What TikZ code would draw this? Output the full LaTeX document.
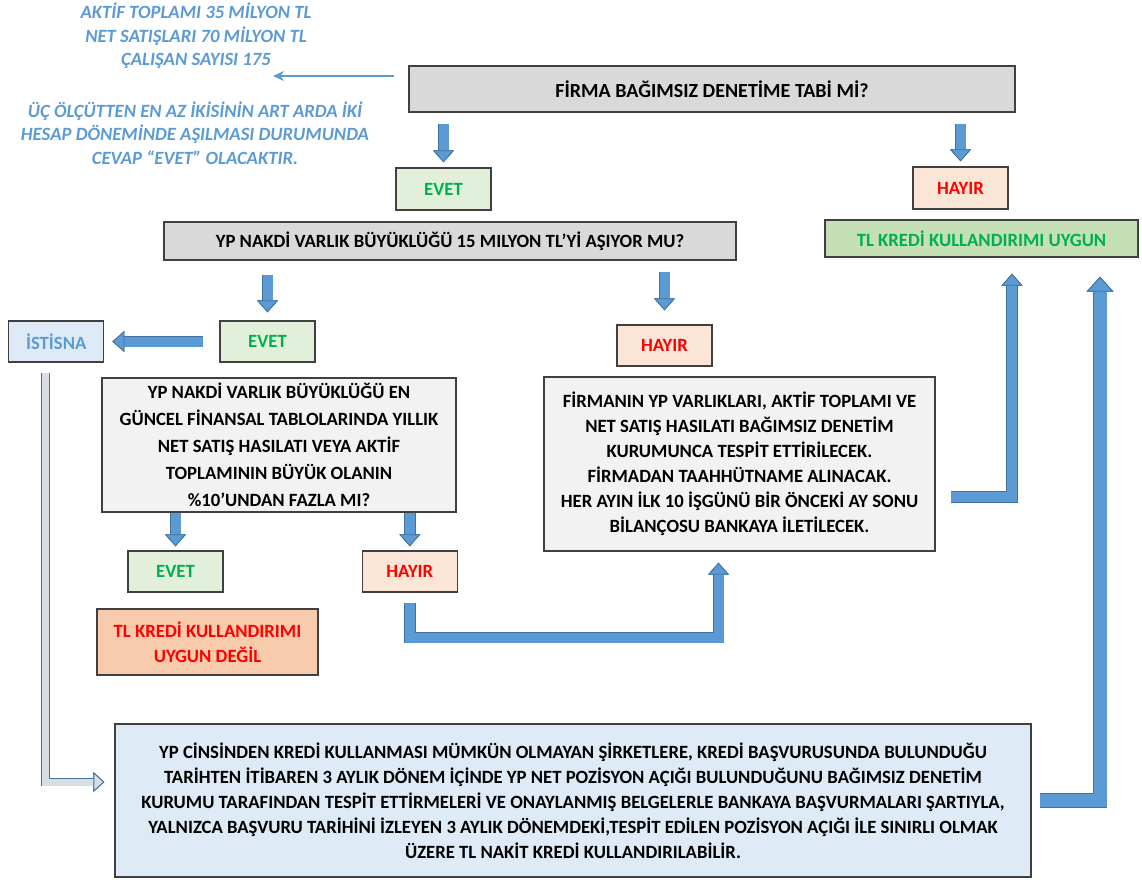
\documentclass[tikz,border=0pt]{standalone}
\usepackage{fontspec}
\setmainfont{Carlito}
\usepackage{xcolor}
\usetikzlibrary{positioning,arrows.meta}

\definecolor{boxline}{HTML}{404040}
\definecolor{askgray}{HTML}{D9D9D9}
\definecolor{notegray}{HTML}{F2F2F2}
\definecolor{yesfill}{HTML}{E2EFDA}
\definecolor{nofill}{HTML}{FBE5D6}
\definecolor{okfill}{HTML}{C5E0B4}
\definecolor{failfill}{HTML}{F8CBAD}
\definecolor{exfill}{HTML}{DEEBF7}
\definecolor{yesgreen}{HTML}{00B050}
\definecolor{nored}{HTML}{FF0000}
\definecolor{arrowfill}{HTML}{5B9BD5}
\definecolor{arrowedge}{HTML}{41719C}
\definecolor{hollowfill}{HTML}{D9DEE5}
\definecolor{hintblue}{HTML}{5B9BD5}

\newcommand{\boxfont}{\fontsize{18.7}{25}\selectfont\bfseries}

\tikzset{
  box/.style={draw=boxline, line width=1.3pt, align=center, inner sep=0pt, font=\boxfont},
  askbox/.style={box, fill=askgray},
  notebox/.style={box, fill=notegray},
  yesbox/.style={box, fill=yesfill, text=yesgreen, minimum width=95pt, minimum height=42pt},
  nobox/.style={box, fill=nofill, text=nored, minimum width=95pt, minimum height=42pt},
  hinttext/.style={align=center, inner sep=0pt, text=hintblue, font=\fontsize{18.7}{23.5}\selectfont\bfseries\itshape},
  hintarrow/.style={draw=hintblue, line width=1.2pt, -{Stealth[length=11pt,width=10pt]}},
  barrow/.style={draw=arrowfill, line width=10pt, line join=miter,
    preaction={draw=arrowedge, line width=11.6pt},
    -{Triangle[width=21pt,length=12pt,fill=arrowfill,color=arrowedge,line width=0.8pt]}},
  bigarrow/.style={draw=arrowfill, line width=13pt, line join=miter,
    preaction={draw=arrowedge, line width=14.6pt},
    -{Triangle[width=27pt,length=15pt,fill=arrowfill,color=arrowedge,line width=0.8pt]}},
  hollowarrow/.style={draw=hollowfill, line width=7pt, line join=miter,
    preaction={draw=arrowedge, line width=8.8pt},
    -{Triangle[width=20pt,length=11pt,fill=hollowfill,color=arrowedge,line width=0.9pt]}}
}

\begin{document}
\begin{tikzpicture}[x=1pt,y=-1pt]
\useasboundingbox (0,0) rectangle (1142,879);

\node[hinttext] (crit) at (196,36) {AKTİF TOPLAMI 35 MİLYON TL\\NET SATIŞLARI 70 MİLYON TL\\ÇALIŞAN SAYISI 175};
\node[hinttext] (rule) at (195,133) {ÜÇ ÖLÇÜTTEN EN AZ İKİSİNİN ART ARDA İKİ\\HESAP DÖNEMİNDE AŞILMASI DURUMUNDA\\CEVAP “EVET” OLACAKTIR.};
\coordinate (crittip) at (273,76);

\node[askbox, minimum width=606pt, minimum height=46pt, font=\fontsize{20}{24}\selectfont\bfseries] (q1) at (712,89) {FİRMA BAĞIMSIZ DENETİME TABİ Mİ?};
\node[yesbox] (e1) at (443.5,189) {EVET};
\node[nobox] (h1) at (960.5,188) {HAYIR};
\node[askbox, minimum width=572pt, minimum height=38pt] (q2) at (450,241) {YP NAKDİ VARLIK BÜYÜKLÜĞÜ 15 MILYON TL’Yİ AŞIYOR MU?};
\node[box, fill=okfill, text=yesgreen, minimum width=313pt, minimum height=37pt] (ok) at (981.5,238.5) {TL KREDİ KULLANDIRIMI UYGUN};

\node[yesbox, minimum height=41pt] (e2) at (267.5,341.5) {EVET};
\node[box, fill=exfill, text=hintblue, minimum width=95pt, minimum height=41pt, left=115pt of e2] (ist) {İSTİSNA};
\node[nobox, minimum height=41pt] (h2) at (664.5,345.5) {HAYIR};

\node[notebox, minimum width=354pt, minimum height=134pt, font=\fontsize{18.7}{27}\selectfont\bfseries] (q3) at (279,445) {YP NAKDİ VARLIK BÜYÜKLÜĞÜ EN\\GÜNCEL FİNANSAL TABLOLARINDA YILLIK\\NET SATIŞ HASILATI VEYA AKTİF\\TOPLAMININ BÜYÜK OLANIN\\\%10’UNDAN FAZLA MI?};
\node[notebox, minimum width=391pt, minimum height=174pt] (q4) at (739.5,464) {FİRMANIN YP VARLIKLARI, AKTİF TOPLAMI VE\\NET SATIŞ HASILATI BAĞIMSIZ DENETİM\\KURUMUNCA TESPİT ETTİRİLECEK.\\FİRMADAN TAAHHÜTNAME ALINACAK.\\HER AYIN İLK 10 İŞGÜNÜ BİR ÖNCEKİ AY SONU\\BİLANÇOSU BANKAYA İLETİLECEK.};

\node[yesbox, minimum height=41pt] (e3) at (175.5,571.5) {EVET};
\node[nobox, minimum height=41pt, right=138pt of e3] (h3) {HAYIR};
\node[box, fill=failfill, text=nored, minimum width=221pt, minimum height=66pt] (nok) at (207.5,642) {TL KREDİ KULLANDIRIMI\\UYGUN DEĞİL};

\node[box, fill=exfill, minimum width=916pt, minimum height=153pt] (bot) at (573,800.5) {YP CİNSİNDEN KREDİ KULLANMASI MÜMKÜN OLMAYAN ŞİRKETLERE, KREDİ BAŞVURUSUNDA BULUNDUĞU\\TARİHTEN İTİBAREN 3 AYLIK DÖNEM İÇİNDE YP NET POZİSYON AÇIĞI BULUNDUĞUNU BAĞIMSIZ DENETİM\\KURUMU TARAFINDAN TESPİT ETTİRMELERİ VE ONAYLANMIŞ BELGELERLE BANKAYA BAŞVURMALARI ŞARTIYLA,\\YALNIZCA BAŞVURU TARİHİNİ İZLEYEN 3 AYLIK DÖNEMDEKİ,TESPİT EDİLEN POZİSYON AÇIĞI İLE SINIRLI OLMAK\\ÜZERE TL NAKİT KREDİ KULLANDIRILABİLİR.};

\draw[hintarrow, shorten <=14pt] ([yshift=13pt]q1.west) -- (crittip);
\draw[barrow, shorten <=11pt, shorten >=5pt] (q1.south -| e1.north) -- (e1.north);
\draw[barrow, shorten <=11pt, shorten >=5pt] (q1.south -| h1.north) -- (h1.north);
\draw[barrow, shorten <=14pt, shorten >=8pt] (q2.south -| e2.north) -- (e2.north);
\draw[barrow, shorten <=11pt, shorten >=14pt] (q2.south -| h2.north) -- (h2.north);
\draw[barrow, shorten <=16pt, shorten >=8pt] (e2.west) -- (ist.east);
\draw[barrow, shorten >=4pt] (q3.south -| e3.north) -- (e3.north);
\draw[barrow, shorten >=4pt] (q3.south -| h3.north) -- (h3.north);
\draw[barrow, shorten <=10pt, shorten >=11pt] (h3.south) -- ++(0,45) -| ([xshift=-21pt]q4.south);
\draw[barrow, shorten <=15pt, shorten >=16pt] ([yshift=-33pt]q4.east) -| ([xshift=30.5pt]ok.south);
\draw[bigarrow, shorten <=8pt, shorten >=19pt] (bot.east) -| ([xshift=118.5pt]ok.south);
\draw[hollowarrow, shorten <=10pt, shorten >=10pt] ([xshift=-10.5pt]ist.south) |- ([yshift=18.5pt]bot.west);
\end{tikzpicture}
\end{document}
